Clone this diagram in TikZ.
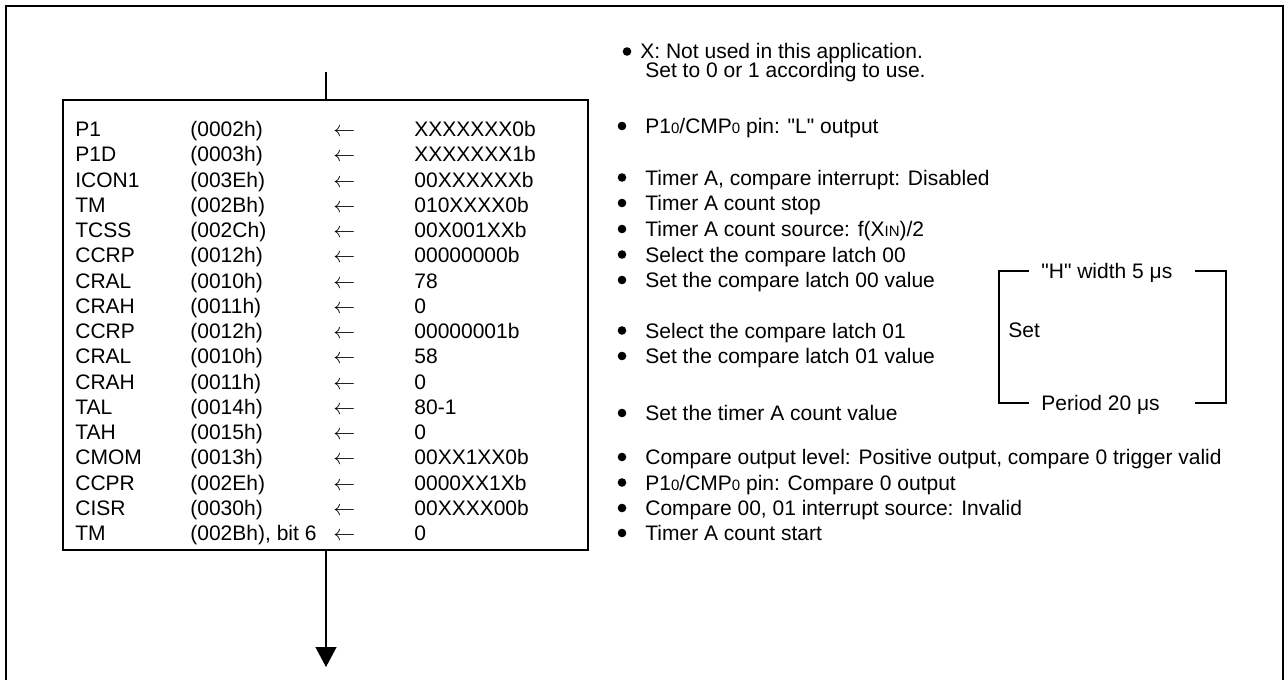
\documentclass[tikz,border=0pt]{standalone}
\usepackage{fontspec}
\setmainfont{Liberation Sans}[Ligatures=TeXOff]
\usetikzlibrary{arrows.meta}
\newcommand{\lowsz}[1]{{\fontsize{7.5pt}{9pt}\selectfont #1}}
\begin{document}
\begin{tikzpicture}[x=0.5pt,y=-0.5pt,
  every node/.style={font=\fontsize{10.5pt}{12.6pt}\selectfont},
  cell/.style={anchor=base west, inner sep=0pt},
  note/.style={anchor=base west, inner sep=0pt},
  bul/.style={circle, fill=black, inner sep=0pt, minimum size=4.3pt},
  frame/.style={line width=1pt},
  boxline/.style={draw, line width=0.75pt},
  conn/.style={line width=0.65pt},
  brk/.style={line width=0.65pt}]
\useasboundingbox (0,0) rectangle (1284,680);
% outer frame (open at the bottom)
\draw[frame] (6,680) -- (6,6) -- (1282.5,6) -- (1282.5,680);

% main box
\node[boxline, minimum width=262.5pt, minimum height=225pt, inner sep=0pt, outer sep=0pt] (box) at (325.5,325) {};
\coordinate (top) at (326,72);
\coordinate (end) at (326,667);
\draw[conn] (top) -- (top |- box.north);
\draw[conn, -{Triangle[width=10.5pt,length=10pt]}] (box.south -| end) -- (end);

% table rows
\foreach \n/\a/\v [count=\k from 0] in {
  P1/{(0002h)}/XXXXXXX0b,
  P1D/{(0003h)}/XXXXXXX1b,
  ICON1/{(003Eh)}/00XXXXXXb,
  TM/{(002Bh)}/010XXXX0b,
  TCSS/{(002Ch)}/00X001XXb,
  CCRP/{(0012h)}/00000000b,
  CRAL/{(0010h)}/78,
  CRAH/{(0011h)}/0,
  CCRP/{(0012h)}/00000001b,
  CRAL/{(0010h)}/58,
  CRAH/{(0011h)}/0,
  TAL/{(0014h)}/80-1,
  TAH/{(0015h)}/0,
  CMOM/{(0013h)}/00XX1XX0b,
  CCPR/{(002Eh)}/0000XX1Xb,
  CISR/{(0030h)}/00XXXX00b,
  TM/{(002Bh), bit 6}/0}{
  \node[cell] (reg\k) at (75,{136.5+25.25*\k}) {\n};
  \node[cell] (adr\k) at (190,{136.5+25.25*\k}) {\a};
  \node[cell] (arr\k) at (333,{136.5+25.25*\k}) {$\leftarrow$};
  \node[cell] (val\k) at (414,{136.5+25.25*\k}) {\v};
}

% notes on the right
\node[bul] (b0) at (627,51.5) {};
\node[note] (t0) at (640,58.5) {X: Not used in this application.};
\node[note] (t0b) at (645,77.5) {Set to 0 or 1 according to use.};
\node[bul] (b1) at (622,126) {};
\node[note] (t1) at (645,133.5) {P1\lowsz{0}/CMP\lowsz{0} pin: "L" output};
\node[bul] (b2) at (622,177.5) {};
\node[note] (t2) at (645,185) {Timer A, compare interrupt: Disabled};
\node[bul] (b3) at (622,203) {};
\node[note] (t3) at (645,210.5) {Timer A count stop};
\node[bul] (b4) at (622,229) {};
\node[note] (t4) at (645,236.5) {Timer A count source: f(X\lowsz{IN})/2};
\node[bul] (b5) at (622,254.5) {};
\node[note] (t5) at (645,262) {Select the compare latch 00};
\node[bul] (b6) at (622,280) {};
\node[note] (t6) at (645,287.5) {Set the compare latch 00 value};
\node[bul] (b7) at (622,330.5) {};
\node[note] (t7) at (645,338) {Select the compare latch 01};
\node[bul] (b8) at (622,356) {};
\node[note] (t8) at (645,363.5) {Set the compare latch 01 value};
\node[bul] (b9) at (622,413) {};
\node[note] (t9) at (645,420.5) {Set the timer A count value};
\node[bul] (b10) at (622,457) {};
\node[note] (t10) at (645,464.5) {Compare output level: Positive output, compare 0 trigger valid};
\node[bul] (b11) at (622,482.5) {};
\node[note] (t11) at (645,490) {P1\lowsz{0}/CMP\lowsz{0} pin: Compare 0 output};
\node[bul] (b12) at (622,508) {};
\node[note] (t12) at (645,515.5) {Compare 00, 01 interrupt source: Invalid};
\node[bul] (b13) at (622,533) {};
\node[note] (t13) at (645,540.5) {Timer A count start};

% bracket with timing settings
\coordinate (btl) at (999,271);
\coordinate (bbl) at (999,403);
\coordinate (btr) at (1226,271);
\coordinate (bbr) at (1226,403);
\coordinate (gtl) at (1029,271);
\coordinate (gtr) at (1195,271);
\coordinate (gbl) at (1029,403);
\coordinate (gbr) at (1195,403);
\draw[brk] (gtl) -- (btl) -- (bbl) -- (gbl);
\draw[brk] (gtr) -- (btr) -- (bbr) -- (gbr);
\node[note] (hw) at (1041,278.5) {"H" width 5 μs};
\node[note] (per) at (1041,410.5) {Period 20 μs};
\node[note] (set) at (1008,337.5) {Set};
\end{tikzpicture}
\end{document}
